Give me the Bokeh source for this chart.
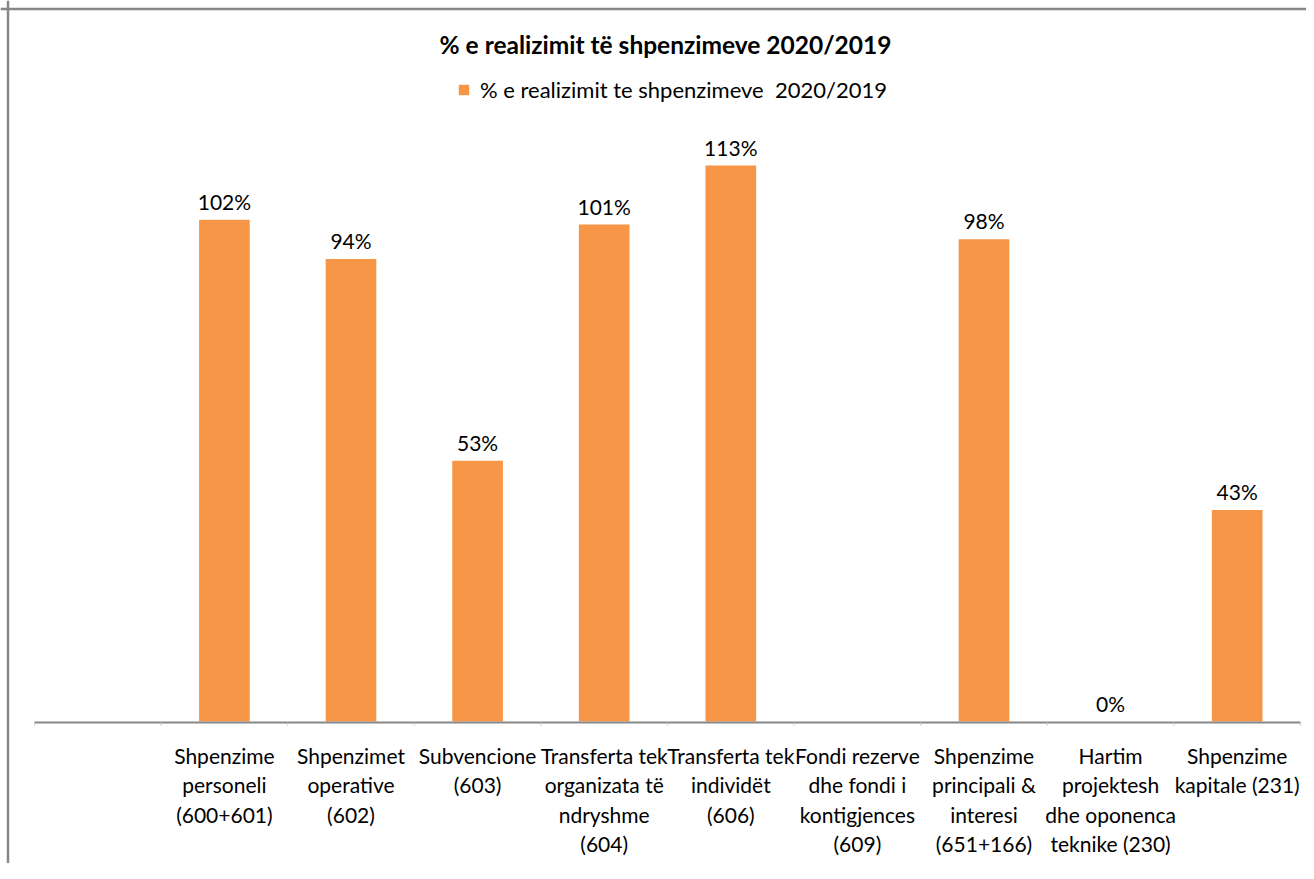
import math
from bokeh.plotting import figure
from bokeh.models import (Range1d, FixedTicker, Label, Legend, LegendItem,
                          ColumnDataSource, LabelSet, Span)
from bokeh.core.properties import value
from bokeh.embed import file_html
from bokeh.resources import INLINE

# ---------------- data ----------------
title_text = "% e realizimit të shpenzimeve  2020/2019"
series_name = "% e realizimit te shpenzimeve  2020/2019"
categories = [
    "",
    "Shpenzime\npersoneli\n(600+601)",
    "Shpenzimet\noperative\n(602)",
    "Subvencione\n(603)",
    "Transferta tek\norganizata të\nndryshme\n(604)",
    "Transferta tek\nindividët\n(606)",
    "Fondi rezerve\ndhe fondi i\nkontigjences\n(609)",
    "Shpenzime\nprincipali &\ninteresi\n(651+166)",
    "Hartim\nprojektesh\ndhe oponenca\nteknike (230)",
    "Shpenzime\nkapitale (231)",
]
values = [float("nan"), 102, 94, 53, 101, 113, float("nan"), 98, 0, 43]

# ---------------- layout (pixel geometry) ----------------
W, H = 1306, 863
SLOT = 126.6           # px per category slot
PXU = 4.92             # px per percent
first_center = 97.3    # px of first slot centre
base_px = 721          # px of the zero line
x0 = 1 - first_center / SLOT
x1 = x0 + W / SLOT
y_end = base_px / PXU
y_start = y_end - H / PXU

def dx(px):
    return x0 + px / SLOT

def dy(py):
    return y_end - py / PXU

FONT = "Lato"
ORANGE = "#F79646"
GREY = "#878787"

p = figure(width=W, height=H, x_range=Range1d(x0, x1), y_range=Range1d(y_start, y_end),
           output_backend="svg", toolbar_location=None, y_axis_location=None,
           min_border_left=0, min_border_right=0, min_border_top=0,
           min_border_bottom=0)
p.outline_line_color = None
p.grid.visible = False
p.background_fill_color = "white"
p.border_fill_color = "white"

# chart-area border (left and top)
p.add_layout(Span(location=dx(7.5), dimension="height", line_color=GREY, line_width=2.5))
p.add_layout(Span(location=dy(8.5), dimension="width", line_color=GREY, line_width=2.5))

xs = list(range(1, len(categories) + 1))
src = ColumnDataSource(dict(x=xs, top=values))
bars = p.vbar(x="x", top="top", width=0.4, bottom=0, source=src,
              fill_color=ORANGE, line_color=None)

# category axis line and slot-boundary ticks
n = len(categories)
p.segment(x0=[0.5], y0=[dy(base_px + 1)], x1=[n + 0.5], y1=[dy(base_px + 1)],
          line_color=GREY, line_width=2)
bounds = [i + 0.5 for i in range(n + 1)]
p.segment(x0=bounds, y0=[dy(base_px + 1)] * len(bounds), x1=bounds,
          y1=[dy(base_px + 4)] * len(bounds), line_color="#c8c8c8", line_width=1)

ax = p.xaxis[0]
ax.fixed_location = 0
ax.ticker = FixedTicker(ticks=xs)
ax.major_label_overrides = {x: c for x, c in zip(xs, categories)}
ax.axis_line_color = None
ax.major_tick_line_color = None
ax.minor_tick_line_color = None
ax.major_label_text_font = FONT
ax.major_label_text_font_size = "21px"
ax.major_label_text_color = "#000000"
ax.major_label_text_line_height = 1.18
ax.major_label_standoff = 15

# value labels
lab_x = [x for x, v in zip(xs, values) if not math.isnan(v)]
lab_y = [v for v in values if not math.isnan(v)]
lab_t = [f"{v:.0f}%" for v in lab_y]
lsrc = ColumnDataSource(dict(x=lab_x, y=lab_y, t=lab_t))
p.add_layout(LabelSet(x="x", y="y", text="t", source=lsrc, y_offset=6,
                      text_align="center", text_baseline="bottom",
                      text_font=value(FONT), text_font_size="21px",
                      text_color="#000000"))

# title
p.add_layout(Label(x=dx(668), y=dy(44), text=title_text, text_align="center",
                   text_baseline="alphabetic", text_font=FONT, text_font_size="24.5px",
                   text_font_style="bold", text_color="#000000"))

# legend
legend = Legend(items=[LegendItem(label=series_name, renderers=[bars])],
                location=(457, H - 90.5 - 12.5), orientation="horizontal",
                glyph_width=13, glyph_height=13, label_standoff=10,
                label_text_font=FONT, label_text_font_size="22px",
                label_text_color="#000000", padding=0, margin=0,
                border_line_color=None, background_fill_alpha=0)
p.add_layout(legend)

open("out.html", "w").write(file_html(p, INLINE))
